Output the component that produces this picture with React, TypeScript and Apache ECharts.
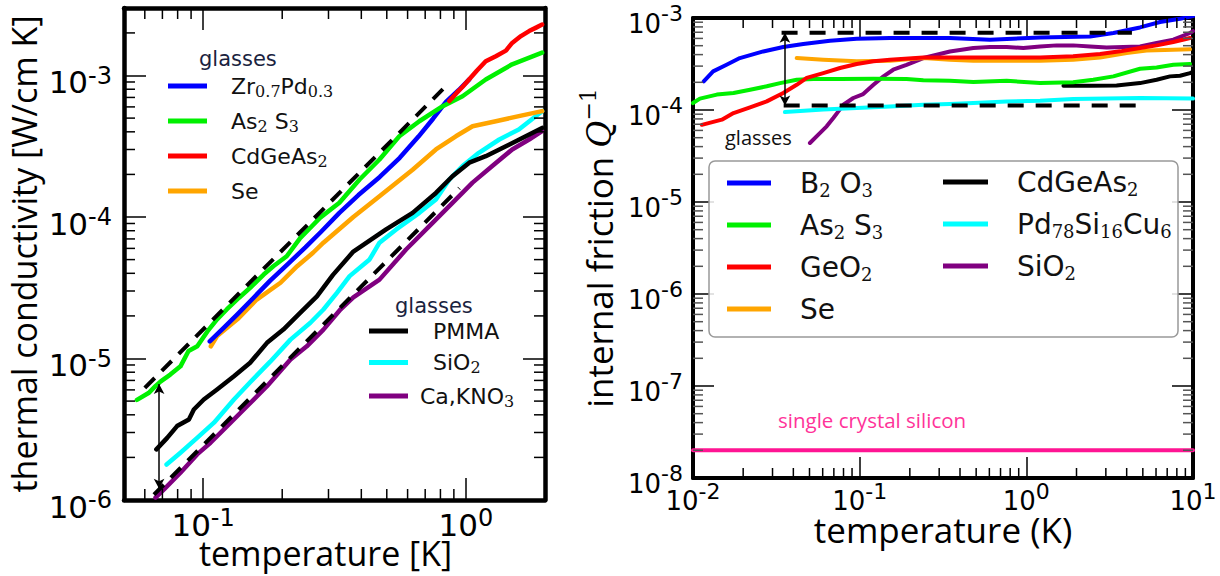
import React, { useEffect, useRef } from "react";
import * as echarts from "echarts";

// ================= LEFT PANEL: thermal conductivity [W/cm K] vs temperature [K] =================
const zrT = [0.106, 0.12, 0.135, 0.156, 0.18, 0.21, 0.245, 0.28, 0.33, 0.39, 0.47, 0.56, 0.66, 0.75, 0.84, 0.94, 1.03];
const zrK = [1.32e-5, 1.65e-5, 2.05e-5, 2.7e-5, 3.55e-5, 4.65e-5, 6.1e-5, 7.8e-5, 1.07e-4, 1.43e-4, 1.92e-4, 2.62e-4, 3.7e-4, 4.95e-4, 6.5e-4, 7.9e-4, 9.4e-4];

const asLT = [0.056, 0.062, 0.066, 0.069, 0.075, 0.082, 0.088, 0.095, 0.104, 0.113, 0.123, 0.137, 0.151, 0.17, 0.185, 0.208, 0.234, 0.256, 0.279, 0.33, 0.394, 0.469, 0.558, 0.665, 0.816, 0.971, 1.19, 1.5, 1.95];
const asLK = [5.1e-6, 5.7e-6, 6.4e-6, 6.9e-6, 7.7e-6, 8.8e-6, 1.13e-5, 1.22e-5, 1.56e-5, 1.89e-5, 2.22e-5, 2.69e-5, 3.16e-5, 3.92e-5, 4.49e-5, 5.28e-5, 7.1e-5, 8.4e-5, 9.9e-5, 1.26e-4, 1.84e-4, 2.55e-4, 3.72e-4, 4.75e-4, 6.07e-4, 7.14e-4, 9.37e-4, 1.2e-3, 1.45e-3];

const cdLT = [0.865, 0.92, 0.97, 1.03, 1.1, 1.19, 1.3, 1.42, 1.5, 1.62, 1.74, 1.85, 1.95];
const cdLK = [6.6e-4, 7.5e-4, 8.3e-4, 9.4e-4, 1.08e-3, 1.26e-3, 1.37e-3, 1.5e-3, 1.7e-3, 1.9e-3, 2.06e-3, 2.18e-3, 2.29e-3];

const seLT = [0.107, 0.113, 0.135, 0.16, 0.197, 0.228, 0.262, 0.287, 0.373, 0.469, 0.627, 0.769, 0.916, 1.06, 1.3, 1.59, 1.95];
const seLK = [1.22e-5, 1.44e-5, 1.89e-5, 2.61e-5, 3.43e-5, 4.49e-5, 5.59e-5, 6.58e-5, 1.0e-4, 1.4e-4, 2.16e-4, 3.0e-4, 3.72e-4, 4.38e-4, 4.75e-4, 5.16e-4, 5.6e-4];

const pmmaT = [0.0664, 0.073, 0.0796, 0.0883, 0.0922, 0.1006, 0.113, 0.131, 0.151, 0.175, 0.202, 0.234, 0.271, 0.312, 0.373, 0.497, 0.627, 0.769, 0.889, 1.03, 1.19, 1.42, 1.69, 1.95];
const pmmaK = [2.28e-6, 2.75e-6, 3.33e-6, 3.71e-6, 4.36e-6, 5.13e-6, 6.04e-6, 7.5e-6, 9.33e-6, 1.29e-5, 1.6e-5, 2.1e-5, 2.75e-5, 3.9e-5, 5.7e-5, 8.17e-5, 1.07e-4, 1.48e-4, 1.94e-4, 2.42e-4, 2.69e-4, 3.16e-4, 3.72e-4, 4.26e-4];

const sioLT = [0.0726, 0.082, 0.0949, 0.11, 0.131, 0.151, 0.18, 0.215, 0.256, 0.287, 0.323, 0.361, 0.43, 0.469, 0.543, 0.665, 0.769, 0.865, 0.971, 1.12, 1.34, 1.59, 1.95];
const sioLK = [1.78e-6, 2.16e-6, 2.75e-6, 3.52e-6, 5.13e-6, 6.8e-6, 9.5e-6, 1.36e-5, 1.79e-5, 2.22e-5, 2.91e-5, 3.82e-5, 5.01e-5, 6.58e-5, 8.17e-5, 1.07e-4, 1.33e-4, 1.84e-4, 2.29e-4, 2.84e-4, 3.53e-4, 4.15e-4, 5.6e-4];

const caT = [0.0659, 0.071, 0.082, 0.0949, 0.1067, 0.127, 0.147, 0.175, 0.215, 0.248, 0.287, 0.333, 0.373, 0.469, 0.592, 0.726, 0.889, 1.06, 1.26, 1.5, 1.74, 1.95];
const caK = [1.04e-6, 1.19e-6, 1.56e-6, 2.1e-6, 2.54e-6, 3.51e-6, 4.6e-6, 6.37e-6, 9.84e-6, 1.22e-5, 1.6e-5, 2.22e-5, 2.7e-5, 3.61e-5, 5.89e-5, 8.61e-5, 1.26e-4, 1.75e-4, 2.29e-4, 3.0e-4, 3.53e-4, 4.04e-4];

const dashUpLT = [0.06, 0.865];
const dashUpLK = [6.2e-6, 8.9e-4];
const dashLoLT = [0.065, 0.944];
const dashLoLK = [1.09e-6, 1.6e-4];
const arrowLT = 0.068;
const arrowLK = [6.6e-6, 1.2e-6];

// ================= RIGHT PANEL: internal friction Q^-1 vs temperature (K) =================
const b2o3T = [0.0116, 0.0132, 0.0159, 0.0191, 0.0264, 0.0348, 0.0459, 0.0664, 0.096, 0.152, 0.241, 0.348, 0.605, 1.21, 2.41, 3.33, 4.81, 6.34, 8.36, 10];
const b2o3Q = [2.05e-4, 2.63e-4, 3.1e-4, 3.67e-4, 4.33e-4, 4.84e-4, 5.21e-4, 5.66e-4, 5.96e-4, 6.06e-4, 6.06e-4, 6.06e-4, 5.81e-4, 6.15e-4, 6.31e-4, 6.87e-4, 7.9e-4, 9.05e-4, 9.8e-4, 1.05e-3];

const asRT = [0.01, 0.011, 0.0139, 0.0175, 0.022, 0.0277, 0.0333, 0.0419, 0.0527, 0.0762, 0.121, 0.191, 0.241, 0.348, 0.481, 0.762, 1.21, 1.91, 2.52, 3.33, 4.81, 6.05, 7.62, 9.6];
const asRQ = [1.19e-4, 1.33e-4, 1.47e-4, 1.53e-4, 1.66e-4, 1.81e-4, 1.96e-4, 2.13e-4, 2.17e-4, 2.17e-4, 2.19e-4, 2.17e-4, 2.1e-4, 2.08e-4, 2.02e-4, 2.08e-4, 1.96e-4, 2.0e-4, 2.13e-4, 2.32e-4, 2.81e-4, 2.9e-4, 3.1e-4, 3.16e-4];

const geoT = [0.0113, 0.0149, 0.0175, 0.022, 0.0277, 0.0348, 0.0419, 0.0481, 0.0605, 0.0762, 0.096, 0.121, 0.152, 0.241, 0.348, 0.481, 1.21, 1.91, 2.77, 3.65, 4.81, 6.05, 7.62, 9.6];
const geoQ = [6.9e-5, 7.85e-5, 9.27e-5, 1.07e-4, 1.24e-4, 1.53e-4, 1.88e-4, 2.23e-4, 2.52e-4, 2.86e-4, 3.16e-4, 3.38e-4, 3.52e-4, 3.73e-4, 3.73e-4, 3.73e-4, 3.73e-4, 3.83e-4, 4.06e-4, 4.34e-4, 4.72e-4, 5.04e-4, 5.48e-4, 6.06e-4];

const seRT = [0.0419, 0.0605, 0.096, 0.152, 0.241, 0.348, 0.481, 0.762, 1.21, 1.91, 2.77, 4.0, 5.27, 7.62, 9.6];
const seRQ = [3.67e-4, 3.52e-4, 3.38e-4, 3.43e-4, 3.67e-4, 3.52e-4, 3.43e-4, 3.43e-4, 3.43e-4, 3.52e-4, 3.73e-4, 4.17e-4, 4.42e-4, 4.52e-4, 4.57e-4];

const cdRT = [1.67, 2.41, 3.48, 4.81, 6.05, 7.28, 8.36, 9.6, 10];
const cdRQ = [1.84e-4, 1.84e-4, 1.85e-4, 1.96e-4, 2.13e-4, 2.32e-4, 2.36e-4, 2.52e-4, 2.6e-4];

const pdT = [0.0356, 0.0605, 0.096, 0.152, 0.241, 0.348, 0.481, 0.762, 1.21, 1.91, 3.03, 4.81, 10];
const pdQ = [9.5e-5, 1.01e-4, 1.05e-4, 1.09e-4, 1.14e-4, 1.16e-4, 1.19e-4, 1.24e-4, 1.26e-4, 1.32e-4, 1.33e-4, 1.35e-4, 1.33e-4];

const sioRT = [0.0503, 0.0565, 0.0634, 0.0695, 0.0745, 0.0798, 0.0916, 0.105, 0.121, 0.139, 0.159, 0.191, 0.241, 0.29, 0.348, 0.481, 0.605, 0.762, 0.959, 1.21, 1.52, 1.91, 2.41, 3.03, 4.81, 6.05, 7.62, 9.6, 10];
const sioRQ = [4.38e-5, 5.4e-5, 6.64e-5, 8.19e-5, 9.67e-5, 1.14e-4, 1.35e-4, 1.49e-4, 1.88e-4, 2.32e-4, 2.74e-4, 3.1e-4, 3.67e-4, 3.99e-4, 4.33e-4, 4.72e-4, 4.84e-4, 4.84e-4, 4.72e-4, 4.91e-4, 5.04e-4, 5.04e-4, 4.91e-4, 4.79e-4, 4.91e-4, 5.35e-4, 5.81e-4, 6.87e-4, 7.2e-4];

const siT = [0.01, 10];
const siQ = [2e-8, 2e-8];

const dashUpRT = [0.034, 4.3];
const dashUpRQ = [6.9e-4, 6.9e-4];
const dashLoRT = [0.035, 4.7];
const dashLoRQ = [1.12e-4, 1.12e-4];
const arrowRT = 0.0356;
const arrowRQ = [6.9e-4, 1.12e-4];

// ================= tick positions =================
const mant = [2, 3, 4, 5, 6, 7, 8, 9];
const leftMinorX = [0.06, 0.07, 0.08, 0.09, 0.2, 0.3, 0.4, 0.5, 0.6, 0.7, 0.8, 0.9];
const leftMinorY = [1e-6, 1e-5, 1e-4].flatMap((d) => mant.map((m) => +(m * d).toPrecision(3))).concat([2e-3]);
const rightMinorX = [0.01, 0.1, 1].flatMap((d) => mant.map((m) => +(m * d).toPrecision(3)));
const rightMinorY = [1e-8, 1e-7, 1e-6, 1e-5, 1e-4].flatMap((d) => mant.map((m) => +(m * d).toPrecision(3)));

// ================= legend labels (rich text) =================
const legendText: Record<string, string> = {
  "L Zr": "{p19|}{b|Zr}{u|0.7}{b|Pd}{u|0.3}",
  "L As2S3": "{p19|}{b|As}{u|2}{b| S}{u|3}",
  "L CdGeAs2": "{p19|}{b|CdGeAs}{u|2}",
  "L Se": "{p19|}{b|Se}",
  "L PMMA": "{p20|}{b|PMMA}",
  "L SiO2": "{p20|}{b|SiO}{u|2}",
  "L CaKNO3": "{p7|}{b|Ca,KNO}{u|3}",
  "R B2O3": "{p|}{b|B}{u|2}{b| O}{u|3}",
  "R As2S3": "{p|}{b|As}{u|2}{b| S}{u|3}",
  "R GeO2": "{p|}{b|GeO}{u|2}",
  "R Se": "{p|}{b|Se}",
  "R CdGeAs2": "{p|}{b|CdGeAs}{u|2}",
  "R Pd": "{p|}{b|Pd}{u|78}{b|Si}{u|16}{b|Cu}{u|6}",
  "R SiO2": "{p|}{b|SiO}{u|2}",
};

const C = {
  blue: "#0000ff",
  green: "#00f000",
  red: "#ff0000",
  orange: "#ffa500",
  black: "#000000",
  cyan: "#00ffff",
  purple: "#800080",
  pink: "#ff1493",
};

const pts = (xs: number[], ys: number[]) => xs.map((x, i) => [x, ys[i]]);
const supFmt = (v: number) => `{h|}{b|10}{s|${Math.round(Math.log10(v))}}`;

function line(name: string, xs: number[], ys: number[], color: string, width: number, panel: number, extra: any = {}) {
  return {
    type: "line",
    name,
    xAxisIndex: panel * 2,
    yAxisIndex: panel * 2,
    data: pts(xs, ys),
    color,
    symbol: "none",
    showSymbol: false,
    smooth: false,
    silent: true,
    lineStyle: { color, width, cap: "round", join: "round" },
    z: 2,
    ...extra,
  };
}

function minorTicks(panel: number, xs: number[], ys: number[], xMin: number, yMin: number, len: number, colX: string, colY: string) {
  return {
    type: "custom",
    xAxisIndex: panel * 2,
    yAxisIndex: panel * 2,
    silent: true,
    clip: false,
    z: 4,
    data: [...xs.map((v) => [v, yMin, 0]), ...ys.map((v) => [xMin, v, 1])],
    renderItem: (params: any, api: any) => {
      const cs = params.coordSys;
      const kind = api.value(2);
      if (kind === 0) {
        const x = api.coord([api.value(0), yMin])[0];
        const st = { stroke: colX, lineWidth: 1.5 };
        return {
          type: "group",
          children: [
            { type: "line", shape: { x1: x, y1: cs.y + cs.height, x2: x, y2: cs.y + cs.height - len }, style: st },
            { type: "line", shape: { x1: x, y1: cs.y, x2: x, y2: cs.y + len }, style: st },
          ],
        };
      }
      const y = api.coord([xMin, api.value(1)])[1];
      const st = { stroke: colY, lineWidth: 1.5 };
      return {
        type: "group",
        children: [
          { type: "line", shape: { x1: cs.x, y1: y, x2: cs.x + len, y2: y }, style: st },
          { type: "line", shape: { x1: cs.x + cs.width, y1: y, x2: cs.x + cs.width - len, y2: y }, style: st },
        ],
      };
    },
  };
}

const richL = {
  h: { lineHeight: 34, width: 0 },
  b: { fontFamily: "DejaVu Sans", fontSize: 31, lineHeight: 31, verticalAlign: "bottom", color: "#000" },
  s: { fontFamily: "DejaVu Sans", fontSize: 24, lineHeight: 24, verticalAlign: "top", color: "#000" },
};
const richR = {
  h: { lineHeight: 34, width: 0 },
  b: { fontFamily: "DejaVu Sans", fontSize: 26, lineHeight: 26, verticalAlign: "bottom", color: "#000" },
  s: { fontFamily: "DejaVu Sans", fontSize: 22, lineHeight: 20, verticalAlign: "top", color: "#000" },
};

function logAxis(grid: number, pos: string, min: number, max: number, isLeftPanel: boolean, extra: any = {}) {
  const lw = isLeftPanel ? 4.5 : 4;
  return {
    type: "log",
    logBase: 10,
    gridIndex: grid,
    position: pos,
    min,
    max,
    nameMoveOverlap: false,
    axisLine: { show: true, lineStyle: { color: "#000", width: lw } },
    axisTick: { show: true, inside: true, length: isLeftPanel ? 22 : 21, lineStyle: { color: "#000", width: 1.5 } },
    splitLine: { show: false },
    minorTick: { show: false },
    axisLabel: { show: false },
    ...extra,
  };
}

const legendCommon = {
  orient: "vertical",
  padding: 0,
  icon: "rect",
  selectedMode: false,
  formatter: (n: string) => legendText[n] || n,
  z: 10,
};

const richLegL = {
  b: { fontFamily: "DejaVu Sans", fontSize: 22, lineHeight: 26, color: "#111" },
  u: { fontFamily: "DejaVu Serif", fontSize: 16, lineHeight: 12, verticalAlign: "bottom", color: "#111" },
  p19: { width: 19 },
  p20: { width: 20 },
  p7: { width: 7 },
};
const richLegR = {
  b: { fontFamily: "DejaVu Sans", fontSize: 28, lineHeight: 32, color: "#111" },
  u: { fontFamily: "DejaVu Serif", fontSize: 18, lineHeight: 13, verticalAlign: "bottom", color: "#111" },
  p: { width: 24 },
};

export default function App() {
  const ref = useRef<HTMLDivElement>(null);
  useEffect(() => {
    if (!ref.current) return;
    const chart = echarts.init(ref.current, null, { renderer: "svg" });
    const option: any = {
      animation: false,
      backgroundColor: "#fff",
      textStyle: { fontFamily: "DejaVu Sans" },
      grid: [
        { left: 124, top: 8, width: 421, height: 492, outerBoundsMode: "none" },
        { left: 693, top: 18, width: 500, height: 460, outerBoundsMode: "none" },
      ],
      xAxis: [
        logAxis(0, "bottom", 0.05, 2, true, {
          axisLabel: { show: true, formatter: supFmt, rich: richL, margin: 6, showMinLabel: false, showMaxLabel: false },
          name: "temperature [K]",
          nameLocation: "middle",
          nameGap: 43,
          nameTextStyle: { fontFamily: "Open Sans", fontSize: 34, lineHeight: 20, color: "#000", padding: [0, 18, 0, 0] },
        }),
        logAxis(0, "top", 0.05, 2, true),
        logAxis(1, "bottom", 0.01, 10, false, {
          axisLabel: { show: true, formatter: supFmt, rich: richR, margin: 2, showMinLabel: true, showMaxLabel: true },
          name: "temperature (K)",
          nameLocation: "middle",
          nameGap: 40,
          nameTextStyle: { fontFamily: "Open Sans", fontSize: 35, lineHeight: 22, color: "#000" },
        }),
        logAxis(1, "top", 0.01, 10, false),
      ],
      yAxis: [
        logAxis(0, "left", 1e-6, 3e-3, true, {
          axisLabel: { show: true, formatter: supFmt, rich: richL, margin: 12, padding: [10, 0, 0, 0], showMinLabel: true, showMaxLabel: false },
          name: "thermal conductivity [W/cm K]",
          nameLocation: "middle",
          nameRotate: 90,
          nameGap: 83,
          nameTextStyle: { fontFamily: "Open Sans", fontSize: 34, lineHeight: 34, color: "#000" },
        }),
        logAxis(0, "right", 1e-6, 3e-3, true),
        logAxis(1, "left", 1e-8, 1e-3, false, {
          axisLabel: { show: true, formatter: supFmt, rich: richR, margin: 10, padding: [3, 0, 0, 0], showMinLabel: true, showMaxLabel: true },
          name: "{t|internal friction }{q|Q}{s|−1}",
          nameLocation: "middle",
          nameRotate: 90,
          nameGap: 72,
          nameTextStyle: {
            color: "#000",
            rich: {
              t: { fontFamily: "Open Sans", fontSize: 35, lineHeight: 44, color: "#000" },
              q: { fontFamily: "DejaVu Serif", fontStyle: "italic", fontSize: 33, lineHeight: 44, color: "#000" },
              s: { fontFamily: "DejaVu Serif", fontSize: 22, lineHeight: 24, verticalAlign: "top", color: "#000" },
            },
          },
        }),
        logAxis(1, "right", 1e-8, 1e-3, false),
      ],
      legend: [
        {
          ...legendCommon,
          left: 168,
          top: 75,
          itemWidth: 39,
          itemHeight: 5,
          itemGap: 11,
          data: ["L Zr", "L As2S3", "L CdGeAs2", "L Se"],
          textStyle: { rich: richLegL },
        },
        {
          ...legendCommon,
          left: 369,
          top: 320,
          itemWidth: 39,
          itemHeight: 5,
          itemGap: 9.5,
          data: ["L PMMA", "L SiO2", "L CaKNO3"],
          textStyle: { rich: richLegL },
        },
        {
          ...legendCommon,
          left: 727,
          top: 169,
          itemWidth: 44,
          itemHeight: 5,
          itemGap: 12,
          data: ["R B2O3", "R As2S3", "R GeO2", "R Se"],
          textStyle: { rich: richLegR },
        },
        {
          ...legendCommon,
          left: 943,
          top: 168,
          itemWidth: 45,
          itemHeight: 5,
          itemGap: 12,
          data: ["R CdGeAs2", "R Pd", "R SiO2"],
          textStyle: { rich: richLegR },
        },
      ],
      graphic: [
        {
          type: "rect",
          z: 5,
          shape: { x: 709, y: 161, width: 469, height: 176, r: 6 },
          style: { fill: "rgba(255,255,255,0.85)", stroke: "#999", lineWidth: 1.5 },
        },
        {
          type: "text",
          x: 199,
          y: 59,
          z: 10,
          style: { text: "glasses", fontFamily: "DejaVu Sans", fontSize: 21, fill: "#1a2340", align: "left", verticalAlign: "middle" },
        },
        {
          type: "text",
          x: 395,
          y: 306,
          z: 10,
          style: { text: "glasses", fontFamily: "DejaVu Sans", fontSize: 21, fill: "#1a2340", align: "left", verticalAlign: "middle" },
        },
        {
          type: "text",
          x: 725,
          y: 137,
          z: 10,
          style: { text: "glasses", fontFamily: "Open Sans", fontSize: 20, fill: "#111", align: "left", verticalAlign: "middle" },
        },
        {
          type: "text",
          x: 778,
          y: 420,
          z: 10,
          style: { text: "single crystal silicon", fontFamily: "Open Sans", fontSize: 20.5, fill: "#ff3399", align: "left", verticalAlign: "middle" },
        },
      ],
      series: [
        // left panel curves
        line("L CaKNO3", caT, caK, C.purple, 4.5, 0),
        line("L SiO2", sioLT, sioLK, C.cyan, 4.5, 0),
        line("L PMMA", pmmaT, pmmaK, C.black, 4.5, 0),
        line("L Se", seLT, seLK, C.orange, 4.5, 0),
        line("L Zr", zrT, zrK, C.blue, 4.5, 0),
        line("L As2S3", asLT, asLK, C.green, 4.5, 0),
        line("L CdGeAs2", cdLT, cdLK, C.red, 4.5, 0),
        line("L dash upper", dashUpLT, dashUpLK, C.black, 4, 0, {
          lineStyle: { color: "#000", width: 4, type: [14, 10] },
          z: 3,
          markLine: {
            silent: true,
            symbol: ["arrow", "arrow"],
            symbolSize: [8, 10],
            lineStyle: { type: "solid", color: "#000", width: 1.5 },
            label: { show: false },
            data: [[{ coord: [arrowLT, arrowLK[0]] }, { coord: [arrowLT, arrowLK[1]] }]],
          },
        }),
        line("L dash lower", dashLoLT, dashLoLK, C.black, 4, 0, {
          lineStyle: { color: "#000", width: 4, type: [14, 10] },
          z: 3,
        }),
        minorTicks(0, leftMinorX, leftMinorY, 0.05, 1e-6, 11, "#000", "#000"),
        // right panel curves
        line("single crystal silicon", siT, siQ, C.pink, 4, 1),
        line("R SiO2", sioRT, sioRQ, C.purple, 4, 1),
        line("R Pd", pdT, pdQ, C.cyan, 4, 1),
        line("R CdGeAs2", cdRT, cdRQ, C.black, 4, 1),
        line("R As2S3", asRT, asRQ, C.green, 4, 1),
        line("R Se", seRT, seRQ, C.orange, 4, 1),
        line("R GeO2", geoT, geoQ, C.red, 4, 1),
        line("R B2O3", b2o3T, b2o3Q, C.blue, 4, 1),
        line("R dash upper", dashUpRT, dashUpRQ, C.black, 4, 1, {
          lineStyle: { color: "#000", width: 4, type: [16, 12] },
          z: 3,
          markLine: {
            silent: true,
            symbol: ["arrow", "arrow"],
            symbolSize: [8, 10],
            lineStyle: { type: "solid", color: "#000", width: 1.5 },
            label: { show: false },
            data: [[{ coord: [arrowRT, arrowRQ[0]] }, { coord: [arrowRT, arrowRQ[1]] }]],
          },
        }),
        line("R dash lower", dashLoRT, dashLoRQ, C.black, 4, 1, {
          lineStyle: { color: "#000", width: 4, type: [16, 12] },
          z: 3,
        }),
        minorTicks(1, rightMinorX, rightMinorY, 0.01, 1e-8, 10, "#000", "#555"),
      ],
    };
    chart.setOption(option);
    return () => chart.dispose();
  }, []);
  return <div ref={ref} style={{ position: "absolute", left: 0, top: 0, width: 1220, height: 576, background: "#fff" }} />;
}
